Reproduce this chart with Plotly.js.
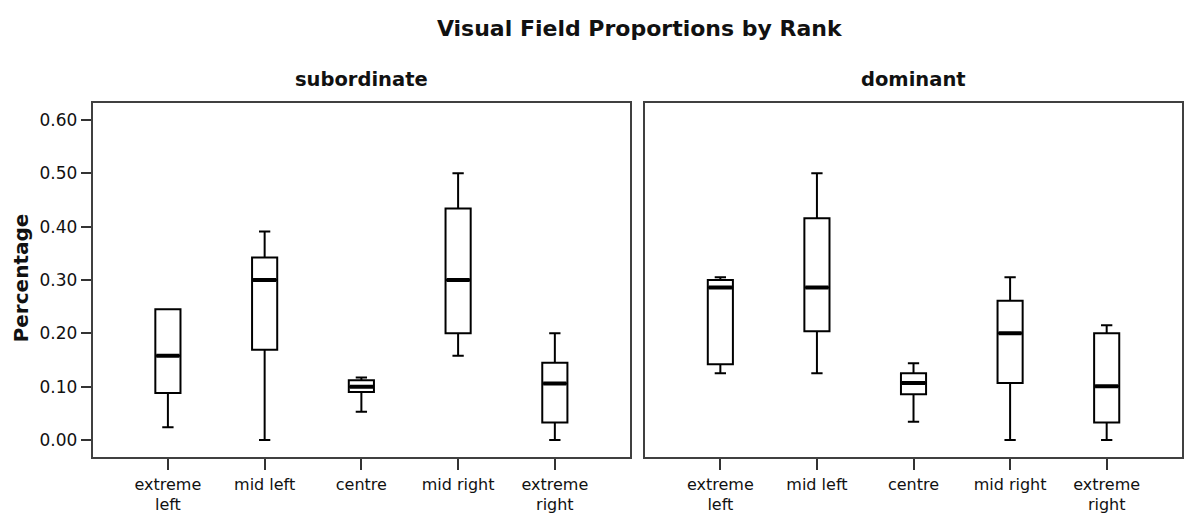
<!DOCTYPE html>
<html>
<head>
<meta charset="utf-8">
<script src="https://cdn.plot.ly/plotly-3.0.1.min.js"></script>
<style>html,body{margin:0;padding:0;background:#fff;}#chart{width:1186px;height:516px;}</style>
</head>
<body>
<div id="chart"></div>
<script>
// Categories / tick labels
var categories = ["extreme left", "mid left", "centre", "mid right", "extreme right"];
var tickLabels = ["extreme<br>left", "mid left", "centre", "mid right", "extreme<br>right"];
var yTicks = [0, 0.1, 0.2, 0.3, 0.4, 0.5, 0.6];
var yTickLabels = ["0.00", "0.10", "0.20", "0.30", "0.40", "0.50", "0.60"];

// Subordinate
var subLower  = [0.024, 0.000, 0.053, 0.158, 0.000];
var subQ1     = [0.088, 0.169, 0.090, 0.200, 0.033];
var subMedian = [0.158, 0.300, 0.100, 0.300, 0.106];
var subQ3     = [0.245, 0.342, 0.112, 0.434, 0.145];
var subUpper  = [0.245, 0.391, 0.117, 0.500, 0.200];

// Dominant
var domLower  = [0.125, 0.125, 0.034, 0.000, 0.000];
var domQ1     = [0.142, 0.204, 0.086, 0.107, 0.033];
var domMedian = [0.286, 0.286, 0.107, 0.200, 0.101];
var domQ3     = [0.300, 0.416, 0.125, 0.261, 0.200];
var domUpper  = [0.305, 0.500, 0.144, 0.305, 0.215];

var panelTitles = ["subordinate", "dominant"];
var chartTitle = "Visual Field Proportions by Rank";

var idx = categories.map(function(_, i){ return i; });
var BW = 0.26;
var FONT = "DejaVu Sans, Liberation Sans, Arial, sans-serif";

function boxTrace(lo, q1, med, q3, up, xa, ya) {
  return {
    type: "box", x: idx, lowerfence: lo, q1: q1, median: med, q3: q3, upperfence: up,
    xaxis: xa, yaxis: ya, width: BW, whiskerwidth: 0.45,
    fillcolor: "#ffffff", line: {color: "#000000", width: 2},
    boxpoints: false, hoverinfo: "skip", showlegend: false
  };
}
function medianTrace(med, xa, ya) {
  var xs = [], ys = [];
  med.forEach(function(m, i){ xs.push(i - BW/2 + 0.01, i + BW/2 - 0.01, null); ys.push(m, m, null); });
  return {type: "scatter", mode: "lines", x: xs, y: ys, xaxis: xa, yaxis: ya,
    line: {color: "#000000", width: 4}, hoverinfo: "skip", showlegend: false};
}

var data = [
  boxTrace(subLower, subQ1, subMedian, subQ3, subUpper, "x", "y"),
  medianTrace(subMedian, "x", "y"),
  boxTrace(domLower, domQ1, domMedian, domQ3, domUpper, "x2", "y2"),
  medianTrace(domMedian, "x2", "y2")
];

var yr = [-0.0325, 0.6325];
var xr = [-0.777, 4.777];
function xaxis(domain) {
  return {domain: domain, range: xr, tickmode: "array", tickvals: idx, ticktext: tickLabels,
    ticks: "outside", ticklen: 11, tickwidth: 2, tickcolor: "#333",
    showline: true, mirror: true, linecolor: "#404040", linewidth: 2,
    showgrid: false, zeroline: false, fixedrange: true,
    tickfont: {family: FONT, size: 16, color: "#111"}};
}
function yaxis(anchor, showLabels) {
  return {domain: [0.1137, 0.8010], range: yr, anchor: anchor,
    tickmode: "array", tickvals: yTicks, ticktext: yTickLabels,
    showticklabels: showLabels, ticks: showLabels ? "outside" : "", ticklen: 10, tickwidth: 2, tickcolor: "#333",
    showline: true, mirror: true, linecolor: "#404040", linewidth: 2,
    showgrid: false, zeroline: false, fixedrange: true,
    tickfont: {family: FONT, size: 17, color: "#111"}};
}

var layout = {
  width: 1186, height: 516,
  margin: {l: 0, r: 0, t: 0, b: 0},
  paper_bgcolor: "#ffffff", plot_bgcolor: "#ffffff",
  title: {text: "<b>" + chartTitle + "</b>", x: 0.539, xanchor: "center", y: 0.945, yanchor: "middle",
    font: {family: FONT, size: 22, color: "#111"}},
  xaxis: Object.assign(xaxis([0.0782, 0.5312]), {anchor: "y"}),
  yaxis: yaxis("x", true),
  xaxis2: Object.assign(xaxis([0.5441, 0.9964]), {anchor: "y2"}),
  yaxis2: yaxis("x2", false),
  showlegend: false,
  annotations: [
    {text: "<b>" + panelTitles[0] + "</b>", xref: "paper", yref: "paper", x: 0.3047, y: 0.845, xanchor: "center", yanchor: "middle", showarrow: false, font: {family: FONT, size: 19.5, color: "#111"}},
    {text: "<b>" + panelTitles[1] + "</b>", xref: "paper", yref: "paper", x: 0.7702, y: 0.845, xanchor: "center", yanchor: "middle", showarrow: false, font: {family: FONT, size: 19.5, color: "#111"}},
    {text: "<b>Percentage</b>", xref: "paper", yref: "paper", x: 0.0175, y: 0.462, xanchor: "center", yanchor: "middle", textangle: -90, showarrow: false, font: {family: FONT, size: 20, color: "#111"}}
  ]
};

Plotly.newPlot("chart", data, layout, {displayModeBar: false, staticPlot: true});
</script>
</body>
</html>
